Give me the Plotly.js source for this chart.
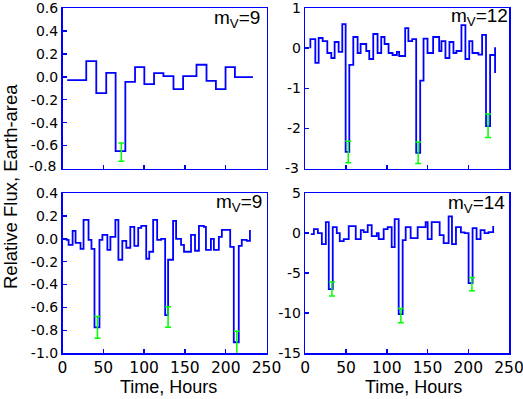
<!DOCTYPE html>
<html><head><meta charset="utf-8">
<script src="https://cdn.plot.ly/plotly-3.0.1.min.js"></script>
<style>html,body{margin:0;padding:0;background:#fff}#c{width:523px;height:399px}</style>
</head><body><div id="c"></div>
<script>
// Panel 1 (m_V = 9, top-left)
const t1 = [5.7, 29.1, 41.4, 53.6, 65.1, 77.0, 88.9, 100.3, 112.2, 123.7, 136.0, 147.8, 164.2, 176.5, 188.0, 199.8, 211.3, 233.4];
const f1 = [-0.029, 0.137, -0.143, 0.035, -0.649, -0.044, 0.084, -0.064, 0.032, 0.006, -0.108, 0.006, 0.105, -0.035, -0.108, 0.084, -0.003, -0.003];
const e1t = [72.1], e1f = [-0.658], e1e = [0.079];

// Panel 2 (m_V = 12, top-right)
const t2 = [6.2, 6.2, 12.3, 16.4, 21.3, 27.0, 31.9, 36.0, 40.9, 45.4, 49.5, 54.0, 58.9, 64.2, 67.9, 74.8, 78.5, 83.4, 88.7, 93.2, 97.3, 102.2, 107.1, 112.4, 115.2, 122.6, 126.5, 131.2, 136.1, 141.0, 145.1, 150.0, 156.9, 164.3, 167.1, 172.0, 176.9, 181.8, 185.5, 191.6, 196.5, 201.2, 205.1, 212.5, 217.0, 221.8, 226.8, 232.9, 232.9];
const f2 = [0.0, 0.228, -0.369, 0.253, 0.178, -0.120, -0.245, 0.154, -0.095, 0.602, -2.585, -0.419, 0.278, -0.120, 0.104, -0.071, -0.270, 0.353, -0.120, 0.278, 0.104, -0.120, -0.170, -0.095, -0.195, 0.502, 0.178, 0.228, -2.61, -0.81, 0.236, -0.12, 0.278, -0.071, 0.178, -0.245, 0.154, -0.12, -0.071, 0.577, -0.27, 0.178, -0.12, -0.16, 0.33, -1.946, -0.17, 0.02, -0.62];
const e2t = [52.7, 138.5, 224.3], e2f = [-2.59, -2.61, -1.935], e2e = [0.27, 0.27, 0.295];

// Panel 3 (m_V = 9, bottom-left)
const t3 = [0, 5.0, 7.5, 12.4, 16.0, 22.1, 25.8, 31.9, 35.5, 39.2, 45.3, 48.9, 55.0, 58.7, 64.8, 68.5, 73.3, 78.2, 83.1, 88.0, 92.8, 96.5, 102.6, 106.3, 111.1, 116.0, 120.9, 125.8, 129.4, 135.5, 139.2, 145.3, 148.9, 157.5, 162.4, 167.2, 173.3, 175.8, 181.9, 185.5, 191.6, 195.3, 205.5, 209.9, 216.0, 219.7, 225.8, 229.7];
const f3 = [0.0, -0.009, -0.052, 0.07, -0.035, -0.087, 0.165, -0.009, -0.087, -0.774, -0.009, 0.035, -0.096, 0.017, 0.165, -0.183, -0.017, -0.078, 0.104, -0.061, 0.096, 0.113, -0.174, -0.113, 0.165, -0.009, 0.0, -0.667, -0.183, 0.157, 0.0, -0.052, -0.113, 0.035, -0.104, 0.113, 0.104, -0.096, 0.0, -0.096, 0.017, 0.078, -0.07, -0.904, -0.061, -0.009, -0.017, 0.078];
const e3t = [42.8, 129.4, 213.6], e3f = [-0.774, -0.683, -0.909], e3e = [0.096, 0.09, 0.1];

// Panel 4 (m_V = 14, bottom-right)
const t4 = [6.8, 10.5, 15.4, 20.3, 25.2, 28.8, 33.7, 38.6, 42.3, 47.2, 53.3, 61.9, 68.1, 71.7, 76.6, 81.5, 87.7, 90.1, 96.2, 101.1, 106.0, 109.7, 114.6, 119.5, 123.2, 129.3, 137.9, 142.8, 147.7, 150.2, 155.1, 164.9, 169.8, 175.9, 180.0, 184.9, 191.0, 195.5, 200.4, 205.3, 210.2, 215.1, 220.0, 224.9, 230.6];
const f4 = [-0.125, 0.5, 0.0, -1.375, 1.375, -7.0, 0.75, 0.0, -1.0, -0.75, 0.875, -0.75, 0.375, 0.125, 1.0, -0.375, 0.0, -0.75, 0.5, 0.75, -1.75, 1.75, -10.125, -0.875, 0.75, -0.625, 0.75, 0.75, 1.375, -0.75, 1.375, -0.25, -1.25, 2.1, -1.375, 0.75, 0.1, 0.0, -6.25, 0.625, -0.75, 0.375, 0.0, 0.125, 0.875];
const e4t = [32.7, 117.3, 204.5], e4f = [-6.98, -10.3, -6.37], e4e = [0.86, 0.9, 0.83];

// Axis ticks / labels
const xTicks = [0, 50, 100, 150, 200, 250];
const xLabels = ['0', '50', '100', '150', '200', '250'];
const xBlank = ['', '', '', '', '', ''];
const y1Ticks = [0.6, 0.4, 0.2, 0.0, -0.2, -0.4, -0.6, -0.8];
const y1Labels = ['0.6', '0.4', '0.2', '0.0', '-0.2', '-0.4', '-0.6', '-0.8'];
const y2Ticks = [1, 0, -1, -2, -3];
const y2Labels = ['1', '0', '-1', '-2', '-3'];
const y3Ticks = [0.4, 0.2, 0.0, -0.2, -0.4, -0.6, -0.8, -1.0];
const y3Labels = ['0.4', '0.2', '0.0', '-0.2', '-0.4', '-0.6', '-0.8', '-1.0'];
const y4Ticks = [5, 0, -5, -10, -15];
const y4Labels = ['5', '0', '-5', '-10', '-15'];
const magLabels = ['m<sub>V</sub>=9', 'm<sub>V</sub>=12', 'm<sub>V</sub>=9', 'm<sub>V</sub>=14'];

const BLUE = '#0000ff', GREEN = '#00ff00';
function stepTrace(x, y, ax) {
  return {x: x, y: y, xaxis: 'x' + ax, yaxis: 'y' + ax, type: 'scatter', mode: 'lines',
    line: {color: BLUE, width: 1.8, shape: 'hv'}, hoverinfo: 'skip'};
}
function errTrace(x, y, e, ax) {
  return {x: x, y: y, xaxis: 'x' + ax, yaxis: 'y' + ax, type: 'scatter', mode: 'markers',
    marker: {size: 2, color: 'rgba(0,0,0,0)'},
    error_y: {type: 'data', array: e, visible: true, color: GREEN, thickness: 1.5, width: 3},
    hoverinfo: 'skip'};
}
const data = [
  stepTrace(t1, f1, ''), stepTrace(t2, f2, '2'), stepTrace(t3, f3, '3'), stepTrace(t4, f4, '4'),
  errTrace(e1t, e1f, e1e, ''), errTrace(e2t, e2f, e2e, '2'), errTrace(e3t, e3f, e3e, '3'), errTrace(e4t, e4f, e4e, '4')
];

const W = 523, H = 399;
const colL = [62.5 / W, 266.5 / W], colR = [305.3 / W, 509 / W];
const rowT = [(H - 168.5) / H, (H - 8) / H], rowB = [(H - 353.3) / H, (H - 193) / H];
const tickFont = {family: 'DejaVu Sans, sans-serif', size: 14, color: '#000'};
function pad(r) { const s = r[1] - r[0]; return [r[0] - s * 0.0005, r[1] + s * 0.0005]; }
function xa(dom, anchor, labels) {
  return {domain: dom, anchor: anchor, range: [0, 250], tickmode: 'array', tickvals: xTicks, ticktext: labels,
    showticklabels: true, ticks: 'inside', ticklen: 4, tickwidth: 1.5, tickcolor: BLUE,
    showline: true, mirror: true, linecolor: BLUE, linewidth: 1.5, showgrid: false, zeroline: false,
    ticklabeloverflow: 'allow',
    tickfont: {family: 'DejaVu Sans, sans-serif', size: 15.5, color: '#000'}, fixedrange: true};
}
function ya(dom, anchor, rng, tv, tt) {
  return {domain: dom, anchor: anchor, range: pad(rng), tickmode: 'array', tickvals: tv, ticktext: tt,
    ticks: 'inside', ticklen: 4, tickwidth: 1.5, tickcolor: BLUE,
    showline: true, mirror: true, linecolor: BLUE, linewidth: 1.5, showgrid: false, zeroline: false,
    ticklabeloverflow: 'allow',
    tickfont: tickFont, fixedrange: true};
}
const magFont = {family: 'Liberation Sans, Arial, sans-serif', size: 19, color: '#000'};
const titleFont = {family: 'Liberation Sans, Arial, sans-serif', size: 18, color: '#000'};
function mag(text, xr, yc) {
  return {text: text, xref: 'paper', yref: 'paper', x: xr / W, y: (H - yc) / H, xanchor: 'right', yanchor: 'middle',
    showarrow: false, font: magFont};
}
// lowest tick label of each upper panel, drawn as an annotation (Plotly does not show it at the corner)
function cornerLabel(text, yPix, xRight) {
  return {text: text, xref: 'paper', yref: 'paper', x: xRight / W, y: (H - yPix) / H, xanchor: 'right', yanchor: 'middle',
    showarrow: false, font: tickFont};
}
const layout = {
  width: W, height: H, margin: {l: 0, r: 0, t: 0, b: 0}, paper_bgcolor: '#fff', plot_bgcolor: '#fff',
  showlegend: false,
  xaxis: xa(colL, 'y', xBlank), yaxis: ya(rowT, 'x', [-0.8, 0.6], y1Ticks.slice(0, -1), y1Labels.slice(0, -1)),
  xaxis2: xa(colR, 'y2', xBlank), yaxis2: ya(rowT, 'x2', [-3, 1], y2Ticks.slice(0, -1), y2Labels.slice(0, -1)),
  xaxis3: xa(colL, 'y3', xLabels), yaxis3: ya(rowB, 'x3', [-1.0, 0.4], y3Ticks, y3Labels),
  xaxis4: xa(colR, 'y4', xLabels), yaxis4: ya(rowB, 'x4', [-15, 5], y4Ticks, y4Labels),
  annotations: [
    mag(magLabels[0], 262, 19), mag(magLabels[1], 510, 17), mag(magLabels[2], 264, 203), mag(magLabels[3], 507, 204),
    cornerLabel(y1Labels[y1Labels.length - 1], 166.5, 58),
    cornerLabel(y2Labels[y2Labels.length - 1], 168, 300.8),
    {text: 'Time, Hours', xref: 'paper', yref: 'paper', x: 168 / W, y: (H - 386.5) / H, xanchor: 'center', yanchor: 'middle', showarrow: false, font: titleFont},
    {text: 'Time, Hours', xref: 'paper', yref: 'paper', x: 413.7 / W, y: (H - 386.5) / H, xanchor: 'center', yanchor: 'middle', showarrow: false, font: titleFont},
    {text: 'Relative Flux, Earth-area', xref: 'paper', yref: 'paper', x: 10 / W, y: (H - 187) / H, xanchor: 'center', yanchor: 'middle', textangle: -90, showarrow: false, font: {family: 'Liberation Sans, Arial, sans-serif', size: 18.5, color: '#000'}}
  ]
};
Plotly.newPlot('c', data, layout, {staticPlot: true, displayModeBar: false});
</script></body></html>
